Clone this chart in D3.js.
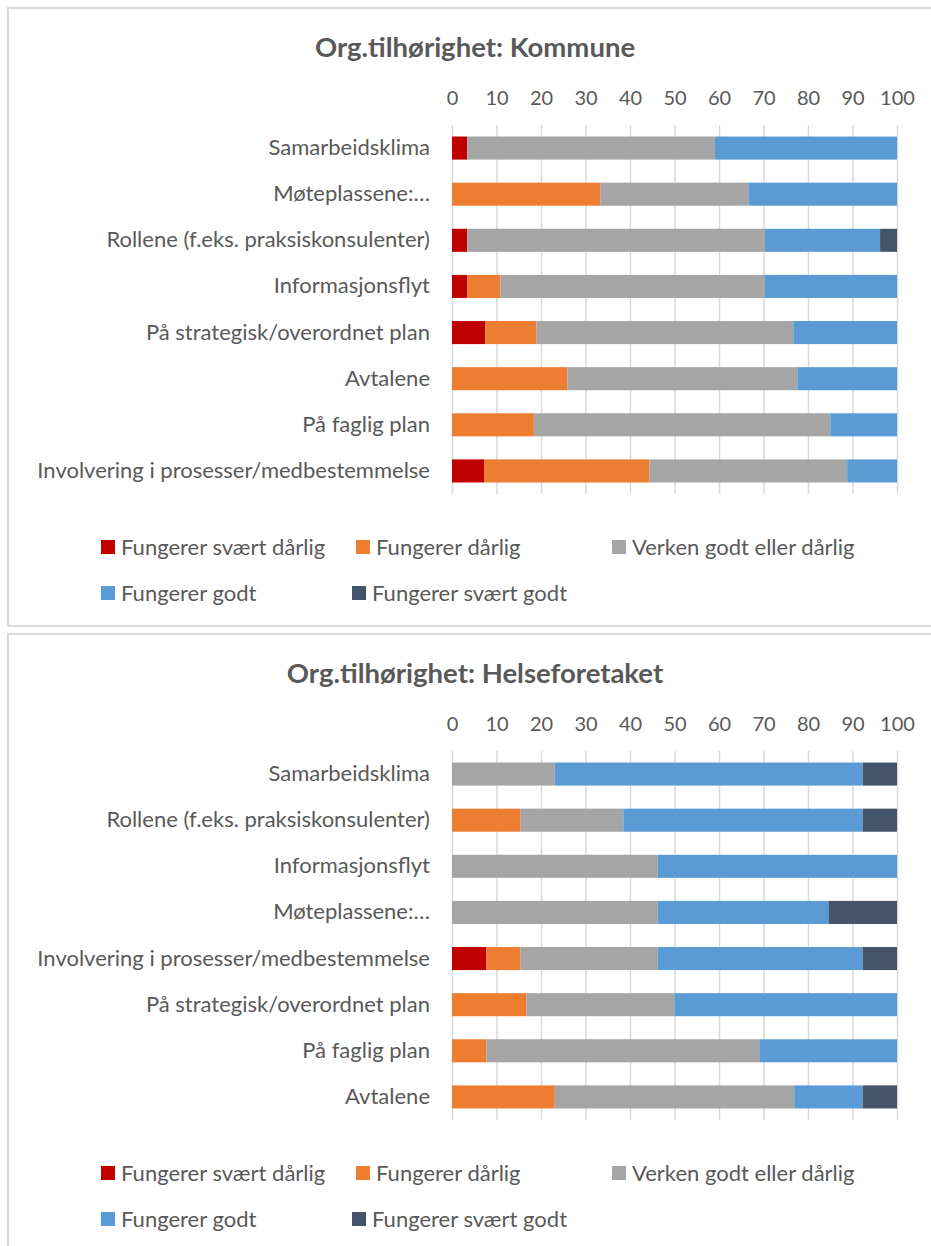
<!DOCTYPE html>
<html>
<head>
<meta charset="utf-8">
<title>Org.tilhørighet</title>
<script src="https://cdn.jsdelivr.net/npm/d3@7/dist/d3.min.js"></script>
<style>
  body { margin: 0; background: #fff; }
  svg { display: block; font-family: Lato, "Open Sans", sans-serif; }
  .panel-border { fill: #fff; stroke: #d9d9d9; stroke-width: 2; }
  .title { font-size: 27.5px; font-weight: bold; fill: #595959; }
  .grid line { stroke: #d9d9d9; stroke-width: 1.5; }
  .grid .domain { display: none; }
  .axis text { font-size: 22px; fill: #595959; font-family: Lato, "Open Sans", sans-serif; }
  .axis.ticks text { font-size: 20px; }
  .axis .domain { display: none; }
  .legend text { font-size: 22px; fill: #595959; }
</style>
</head>
<body>
<svg width="931" height="1246"></svg>
<script>
// series (legend order)
const seriesNames = ["Fungerer svært dårlig", "Fungerer dårlig", "Verken godt eller dårlig", "Fungerer godt", "Fungerer svært godt"];
const seriesColors = ["#c00000", "#ed7d31", "#a5a5a5", "#5b9bd5", "#44546a"];
const xTicks = [0, 10, 20, 30, 40, 50, 60, 70, 80, 90, 100];

// Kommune
const kommuneCategories = ["Samarbeidsklima", "Møteplassene:…", "Rollene (f.eks. praksiskonsulenter)", "Informasjonsflyt",
  "På strategisk/overordnet plan", "Avtalene", "På faglig plan", "Involvering i prosesser/medbestemmelse"];
const kommuneSvaertDarlig = [3.4, 0, 3.4, 3.4, 7.5, 0, 0, 7.2];
const kommuneDarlig      = [0, 33.3, 0, 7.5, 11.5, 25.9, 18.4, 37.2];
const kommuneVerken      = [55.7, 33.3, 66.9, 59.4, 57.7, 51.7, 66.6, 44.4];
const kommuneGodt        = [40.9, 33.4, 25.9, 29.7, 23.3, 22.4, 15.0, 11.2];
const kommuneSvaertGodt  = [0, 0, 3.8, 0, 0, 0, 0, 0];

// Helseforetaket
const helseCategories = ["Samarbeidsklima", "Rollene (f.eks. praksiskonsulenter)", "Informasjonsflyt", "Møteplassene:…",
  "Involvering i prosesser/medbestemmelse", "På strategisk/overordnet plan", "På faglig plan", "Avtalene"];
const helseSvaertDarlig = [0, 0, 0, 0, 7.7, 0, 0, 0];
const helseDarlig       = [0, 15.4, 0, 0, 7.7, 16.7, 7.7, 23.1];
const helseVerken       = [23.1, 23.1, 46.2, 46.2, 30.8, 33.3, 61.5, 53.8];
const helseGodt         = [69.2, 53.8, 53.8, 38.4, 46.1, 50.0, 30.8, 15.4];
const helseSvaertGodt   = [7.7, 7.7, 0, 15.4, 7.7, 0, 0, 7.7];

const svg = d3.select("svg");

function drawPanel(top, title, categories, cols) {
  const g = svg.append("g").attr("transform", `translate(0,${top})`);

  g.append("rect").attr("class", "panel-border")
    .attr("x", 8).attr("y", 0).attr("width", 940).attr("height", 618);

  g.append("text").attr("class", "title")
    .attr("x", 475).attr("y", 49).attr("text-anchor", "middle")
    .text(title);

  const plotTop = 117, plotBottom = 486;
  const x = d3.scaleLinear().domain([0, 100]).range([452, 897]);
  const y = d3.scaleBand().domain(categories).range([plotTop, plotBottom]).paddingInner(0.5).paddingOuter(0.25);

  // grid
  g.append("g").attr("class", "grid")
    .attr("transform", `translate(0,${plotBottom})`)
    .call(d3.axisBottom(x).tickValues(xTicks).tickSize(-(plotBottom - plotTop)).tickFormat(""));

  // top tick labels
  g.append("g").attr("class", "axis ticks")
    .attr("transform", `translate(0,97)`)
    .call(d3.axisTop(x).tickValues(xTicks).tickSize(0).tickPadding(0))
    .selectAll("text").attr("dy", "0em");

  // category labels
  g.append("g").attr("class", "axis")
    .attr("transform", `translate(452,0)`)
    .call(d3.axisLeft(y).tickSize(0).tickPadding(22));

  const rows = categories.map((c, i) => {
    const r = { cat: c };
    seriesNames.forEach((s, j) => { r[s] = cols[j][i]; });
    return r;
  });
  const stacked = d3.stack().keys(seriesNames)(rows);

  g.append("g").selectAll("g")
    .data(stacked)
    .join("g")
    .attr("fill", (d, i) => seriesColors[i])
    .selectAll("rect")
    .data(d => d.filter(p => p[1] - p[0] > 0))
    .join("rect")
    .attr("x", d => x(d[0]))
    .attr("width", d => x(d[1]) - x(d[0]))
    .attr("y", d => y(d.data.cat))
    .attr("height", y.bandwidth());

  // legend
  const legendPos = [[101, 539], [356, 539], [612, 539], [101, 585], [352, 585]];
  const lg = g.append("g").attr("class", "legend");
  seriesNames.forEach((s, i) => {
    const [lx, ly] = legendPos[i];
    lg.append("rect").attr("x", lx).attr("y", ly - 7).attr("width", 14).attr("height", 14)
      .attr("fill", seriesColors[i]);
    lg.append("text").attr("x", lx + 20).attr("y", ly).attr("dy", "0.35em").text(s);
  });
}

drawPanel(8, "Org.tilhørighet: Kommune", kommuneCategories,
  [kommuneSvaertDarlig, kommuneDarlig, kommuneVerken, kommuneGodt, kommuneSvaertGodt]);
drawPanel(634, "Org.tilhørighet: Helseforetaket", helseCategories,
  [helseSvaertDarlig, helseDarlig, helseVerken, helseGodt, helseSvaertGodt]);
</script>
</body>
</html>
